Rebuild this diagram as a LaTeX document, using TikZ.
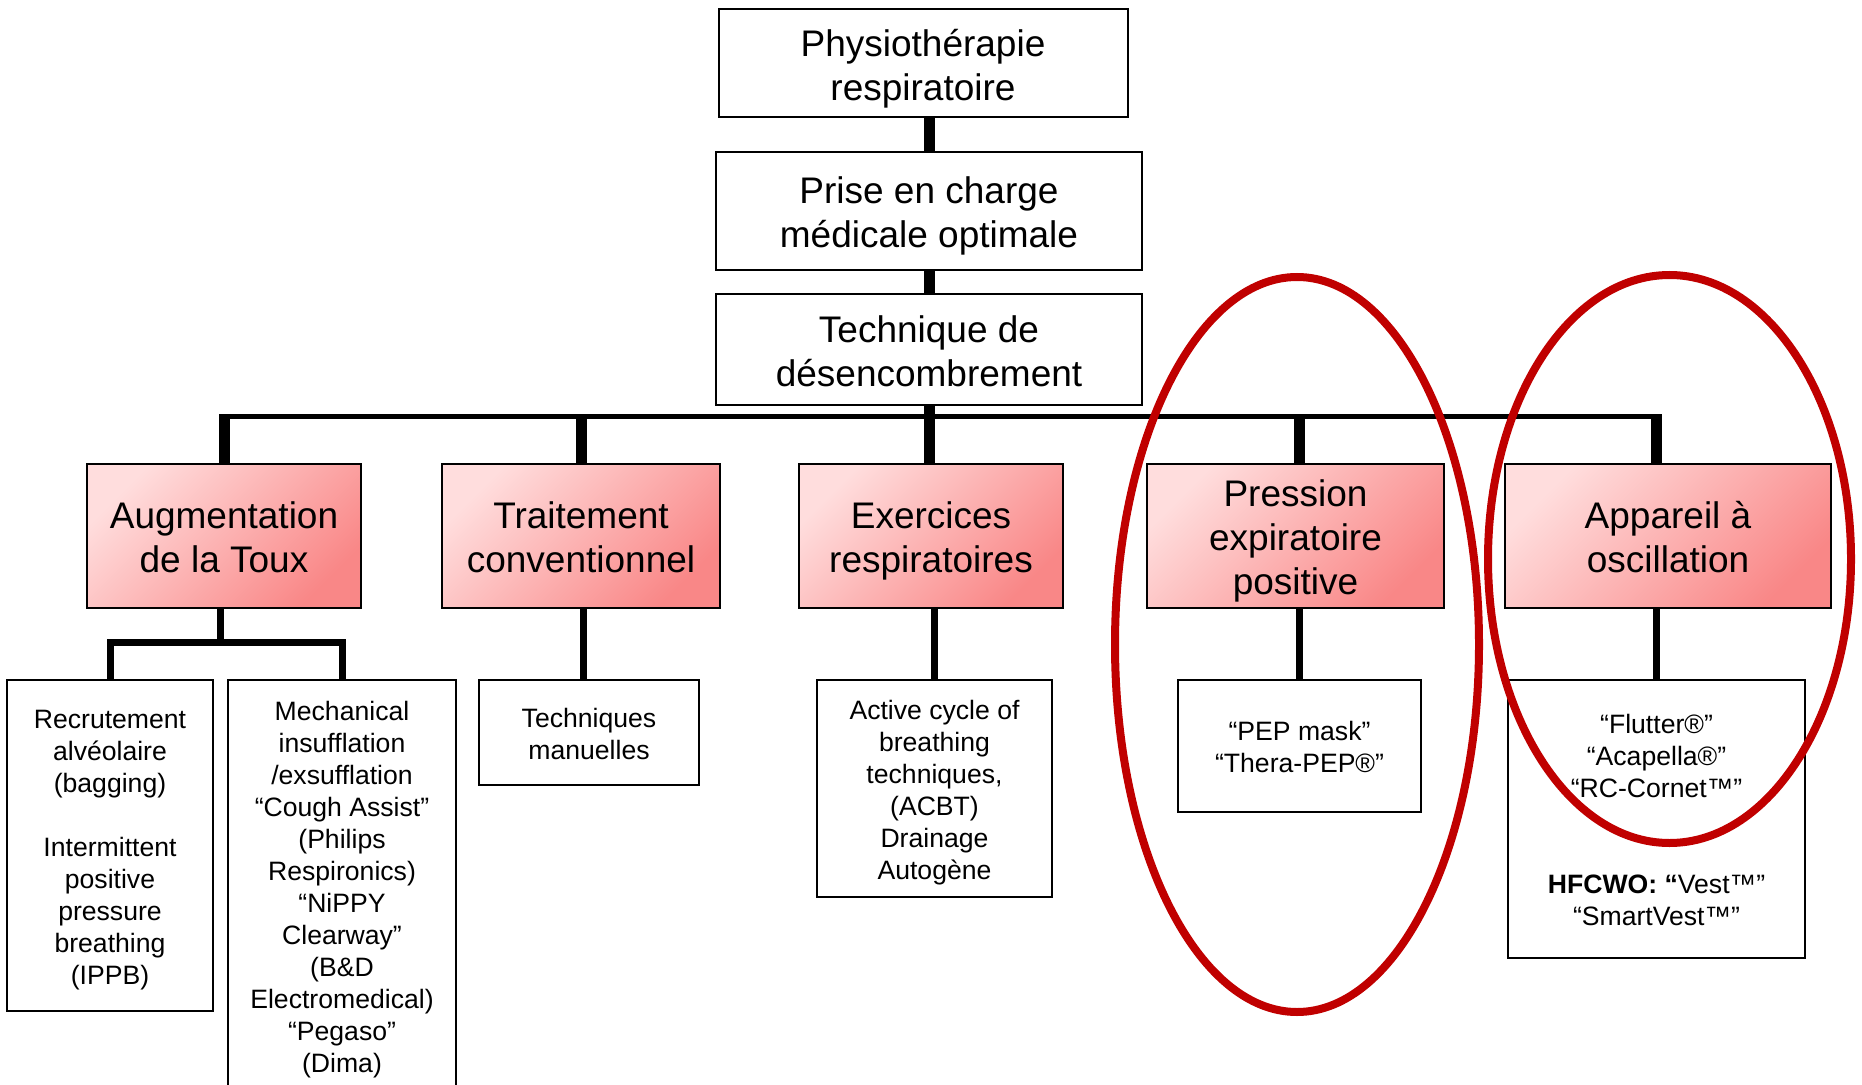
\documentclass[tikz,border=0pt]{standalone}
\usepackage{fontspec}
\setmainfont{Liberation Sans}
\definecolor{pinklight}{HTML}{FFDDDD}
\definecolor{pinkdark}{HTML}{F98787}
\definecolor{ringred}{HTML}{C00000}
\newcommand{\bigtop}{\rule{0pt}{18.5pt}}
\newcommand{\smalltop}{\rule{0pt}{13.3pt}}
\tikzset{
  bigbox/.style={draw, line width=1pt, inner sep=0pt, align=center, font=\fontsize{18.5pt}{22pt}\selectfont,
    execute at end node={\rule[-3.8pt]{0pt}{3.8pt}}},
  pinkbox/.style={bigbox, top color=pinklight, bottom color=pinkdark, shading angle=45, minimum height=72pt},
  smallbox/.style={draw, line width=1pt, inner sep=0pt, align=center, font=\fontsize{13.3pt}{16pt}\selectfont,
    execute at end node={\rule[-2.7pt]{0pt}{2.7pt}}},
  trunk/.style={line width=5.5pt},
  buswire/.style={line width=2.75pt},
  stem/.style={line width=3.5pt, line join=miter},
  ring/.style={draw=ringred, line width=4pt},
}
\begin{document}
\begin{tikzpicture}[x=0.5pt, y=-0.5pt]
                \useasboundingbox (0,0) rectangle (1862,1085);

                % Drawing the top column
                \node (physio) at (923,63.5) [bigbox, minimum width=204.5pt, minimum height=54pt] {\bigtop Physiothérapie\\respiratoire};
                \node (medic) at (929,211) [bigbox, minimum width=213pt, minimum height=59pt] {\bigtop Prise en charge\\médicale optimale};
                \node (tech) at (929,349.5) [bigbox, minimum width=213pt, minimum height=55.5pt] {\bigtop Technique de\\désencombrement};

                % Drawing the pink boxes
                \node (aug) at (224,536) [pinkbox, minimum width=137pt] {\bigtop Augmentation\\de la Toux};
                \node (trait) at (581,536) [pinkbox, minimum width=139pt] {\bigtop Traitement\\conventionnel};
                \node (exerc) at (931,536) [pinkbox, minimum width=132pt] {\bigtop Exercices\\respiratoires};
                \node (pep) at (1295.5,536) [pinkbox, minimum width=148.5pt] {\bigtop Pression\\expiratoire\\positive};
                \node (osc) at (1668,536) [pinkbox, minimum width=163pt] {\bigtop Appareil à\\oscillation};

                % Drawing the lower boxes
                \node (recr) at (110,845.5) [smallbox, minimum width=103pt, minimum height=165.5pt] {\smalltop Recrutement\\alvéolaire\\(bagging)\\[16pt]Intermittent\\positive\\pressure\\breathing\\(IPPB)};
                \node (mech) at (342,885.5) [smallbox, minimum width=114pt, minimum height=205.5pt] {\smalltop Mechanical\\insufflation\\/exsufflation\\“Cough Assist”\\(Philips\\Respironics)\\“NiPPY\\Clearway”\\(B\&D\\Electromedical)\\“Pegaso”\\(Dima)};
                \node (manu) at (589,732.5) [smallbox, minimum width=110pt, minimum height=52.5pt] {\smalltop Techniques\\manuelles};
                \node (acbt) at (934.5,788.5) [smallbox, minimum width=117.5pt, minimum height=108.5pt] {\smalltop Active cycle of\\breathing\\techniques,\\(ACBT)\\Drainage\\Autogène};
                \node (pepdev) at (1299.5,746) [smallbox, minimum width=121.5pt, minimum height=66pt] {\smalltop “PEP mask”\\“Thera-PEP®”};
                \node (flut) at (1656.5,819) [smallbox, minimum width=148.5pt, minimum height=139pt] {\smalltop “Flutter®”\\“Acapella®”\\“RC-Cornet™”\\[32pt]\textbf{HFCWO: “}Vest™”\\“SmartVest™”};

                % Drawing the trunk and the bus
                \coordinate (bus) at (927,416.5);
                \coordinate (bustop) at (927,414);
                \draw [trunk] (physio.south -| medic.north) -- (medic.north);
                \draw [trunk] (medic.south) -- (tech.north);
                \draw [trunk] (tech.south) -- (tech.south |- exerc.north);
                \draw [buswire] (aug.north |- bus) -- (flut.north |- bus);
                \draw [trunk] (aug.north) -- (aug.north |- bustop);
                \draw [trunk] (trait.north) -- (trait.north |- bustop);
                \draw [trunk] (pepdev.north |- pep.north) -- (pepdev.north |- bustop);
                \draw [trunk] (flut.north |- osc.north) -- (flut.north |- bustop);

                % Drawing the stems down to the lower boxes
                \coordinate (forkA) at (220.5,642.5);
                \draw [stem] (forkA |- aug.south) -- (forkA);
                \draw [stem] (recr.north) |- (forkA) -| (mech.north);
                \draw [stem] ([xshift=-3pt]manu.north) -- ([xshift=-3pt]manu.north |- trait.south);
                \draw [stem] (acbt.north) -- (acbt.north |- exerc.south);
                \draw [stem] (pepdev.north) -- (pepdev.north |- pep.south);
                \draw [stem] (flut.north) -- (flut.north |- osc.south);

                % Drawing the red rings
                \draw [ring] (1297,644.5) ellipse [x radius=91pt, y radius=183.75pt];
                \draw [ring] (1669.5,559) ellipse [x radius=90.75pt, y radius=142pt];
\end{tikzpicture}
\end{document}
